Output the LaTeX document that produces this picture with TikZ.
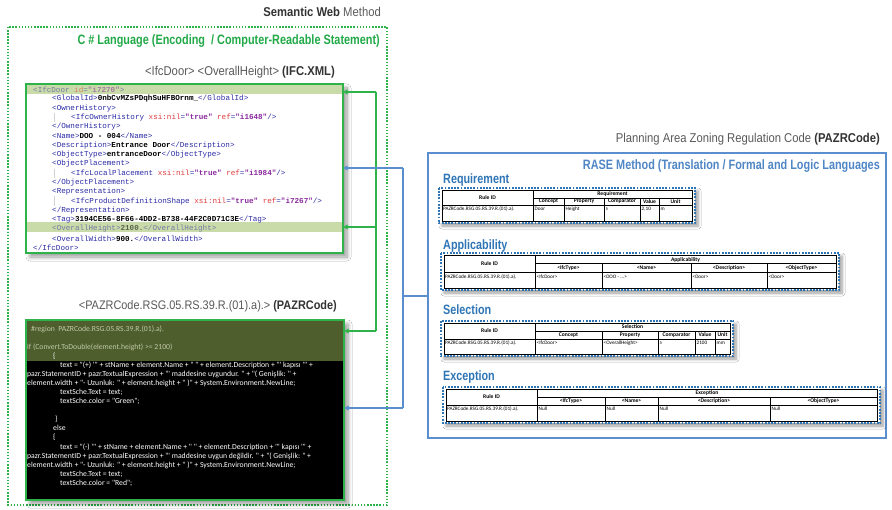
\documentclass[tikz,border=0pt]{standalone}
\usepackage{fontspec}
\setmainfont{Liberation Sans}
\newfontfamily\titlefont[FakeStretch=0.88]{Liberation Sans}
\newfontfamily\condfont[FakeStretch=0.8]{Liberation Sans}
\newfontfamily\xmlfont{Liberation Mono}
\newfontfamily\calfont{Carlito}
\usetikzlibrary{arrows.meta,shadows,shadows.blur}
\definecolor{gr}{HTML}{2DB34A}
\definecolor{gt}{HTML}{22A948}
\definecolor{pb}{HTML}{5B8ECF}
\definecolor{rt}{HTML}{4F86C6}
\definecolor{hb}{HTML}{2E75B6}
\definecolor{tb}{HTML}{2E75B6}
\definecolor{tgy}{HTML}{5A5A5A}
\definecolor{tgd}{HTML}{333333}
\definecolor{hl}{HTML}{C9DBA8}
\definecolor{olv}{HTML}{4E5E2C}
\definecolor{olt}{HTML}{C2C9AA}
\definecolor{xtag}{HTML}{2B2BA6}
\definecolor{xatt}{HTML}{E03A3A}
\definecolor{xval}{HTML}{8A2A9E}
\newcommand\tg[1]{\textcolor{xtag}{#1}}
\newcommand\atn[1]{\textcolor{xatt}{#1}}
\newcommand\av[1]{\textcolor{xval}{\bfseries #1}}
\newcommand\ct[1]{\textbf{#1}}
\tikzset{
  gline/.style={draw=gr, line width=1.4pt},
  garrow/.style={gline, -{Triangle[length=4.5pt,width=5pt]}},
  bline/.style={draw=pb, line width=1.4pt},
  barrow/.style={bline, -{Triangle[length=4.5pt,width=5pt]}},
  tblbox/.style={draw=tb, line width=2pt, dash pattern=on 1.8pt off 1.4pt},
  tshadow/.style={fill=white, inner sep=0, blur shadow={shadow xshift=3pt, shadow yshift=-3pt, shadow blur steps=6, shadow blur radius=3pt}},
  tl/.style={draw=black, line width=0.4pt},
  th/.style={font=\calfont\bfseries\fontsize{5.6}{6}\selectfont, inner sep=0},
  td/.style={font=\calfont\fontsize{5.2}{6}\selectfont, anchor=west, inner sep=0},
  head/.style={font=\condfont\bfseries\fontsize{13.5}{14}\selectfont, text=hb, anchor=base west, inner sep=0},
  gtitle/.style={font=\titlefont\fontsize{12.8}{13}\selectfont, text=tgy, anchor=east, inner sep=0},
  xl/.style={font=\xmlfont\fontsize{7.6}{8}\selectfont, anchor=west, inner sep=0, text=black},
  cl/.style={font=\calfont\fontsize{7.7}{8}\selectfont, anchor=west, inner sep=0, text=white},
}
\begin{document}
\begin{tikzpicture}[x=1pt,y=-1pt]
\useasboundingbox[fill=white] (0,0) rectangle (892,510);

% ---------- left: semantic web ----------
\node[gtitle] (semweb) at (381,12) {\textcolor{tgd}{\bfseries Semantic Web} Method};
\draw[draw=gr, line width=1.6pt, dash pattern=on 1.5pt off 1.6pt] (8,27) rectangle (387,505);
\node[font=\condfont\bfseries\fontsize{13.6}{14}\selectfont, text=gt, anchor=east, inner sep=0] (cstitle) at (380,41) {C \# Language (Encoding\ \ / Computer-Readable Statement)};
\node[gtitle] (ifct) at (335,72) {<IfcDoor> <OverallHeight> \textcolor{tgd}{\bfseries(IFC.XML)}};

% XML box
\node[fill=white, minimum width=317pt, minimum height=169pt, inner sep=0, blur shadow={shadow xshift=4pt, shadow yshift=-4pt, shadow blur steps=8, shadow blur radius=4pt}] (xml) at (184.5,168.5) {};
\fill[hl] (27,85) rectangle (342,94.5);
\fill[hl] (27,222.5) rectangle (342,232);
\foreach \yy in {117.4,173.2,201.1} \draw[black!18, line width=0.5pt] (54.5,\yy-4.6) -- (54.5,\yy+4.6);
\node[xl, text opacity=0.55] (x1) at (33,89.5) {\tg{<IfcDoor }\atn{id}\tg{=}\av{"i7270"}\tg{>}};
\node[xl] (x2) at (52,98.8) {\tg{<GlobalId>}\ct{0nbCvMZsPDqhSuHFBOrnm\_}\tg{</GlobalId>}};
\node[xl] (x3) at (52,108.1) {\tg{<OwnerHistory>}};
\node[xl] (x4) at (71,117.4) {\tg{<IfcOwnerHistory }\atn{xsi:nil}\tg{=}\av{"true"} \atn{ref}\tg{=}\av{"i1648"}\tg{/>}};
\node[xl] (x5) at (52,126.7) {\tg{</OwnerHistory>}};
\node[xl] (x6) at (52,136) {\tg{<Name>}\ct{DOO - 004}\tg{</Name>}};
\node[xl] (x7) at (52,145.3) {\tg{<Description>}\ct{Entrance Door}\tg{</Description>}};
\node[xl] (x8) at (52,154.6) {\tg{<ObjectType>}\ct{entranceDoor}\tg{</ObjectType>}};
\node[xl] (x9) at (52,163.9) {\tg{<ObjectPlacement>}};
\node[xl] (x10) at (71,173.2) {\tg{<IfcLocalPlacement }\atn{xsi:nil}\tg{=}\av{"true"} \atn{ref}\tg{=}\av{"i1984"}\tg{/>}};
\node[xl] (x11) at (52,182.5) {\tg{</ObjectPlacement>}};
\node[xl] (x12) at (52,191.8) {\tg{<Representation>}};
\node[xl] (x13) at (71,201.1) {\tg{<IfcProductDefinitionShape }\atn{xsi:nil}\tg{=}\av{"true"} \atn{ref}\tg{=}\av{"i7267"}\tg{/>}};
\node[xl] (x14) at (52,210.4) {\tg{</Representation>}};
\node[xl] (x15) at (52,219.7) {\tg{<Tag>}\ct{3194CE56-8F66-4DD2-B738-44F2C0D71C3E}\tg{</Tag>}};
\node[xl, text opacity=0.55] (x16) at (52,229) {\tg{<OverallHeight>}\ct{2100.}\tg{</OverallHeight>}};
\node[xl] (x17) at (52,238.3) {\tg{<OverallWidth>}\ct{900.}\tg{</OverallWidth>}};
\node[xl] (x18) at (33,247.6) {\tg{</IfcDoor>}};
\draw[gr, line width=2pt] (xml.north west) rectangle (xml.south east);

% code box
\node[gtitle, font=\titlefont\fontsize{12.4}{13}\selectfont] (pzt) at (337,306) {<PAZRCode.RSG.05.RS.39.R.(01).a).> \textcolor{tgd}{\bfseries(PAZRCode)}};
\node[fill=black, minimum width=318pt, minimum height=180pt, inner sep=0, blur shadow={shadow xshift=4pt, shadow yshift=-4pt, shadow blur steps=8, shadow blur radius=4pt}] (code) at (185,410) {};
\fill[olv] (27,321) rectangle (343,361);
\node[cl, text=olt] (c1) at (31,329) {\#region\ \ PAZRCode.RSG.05.RS.39.R.(01).a).};
\node[cl, text=olt] (c2) at (27,347) {if (Convert.ToDouble(element.height) >= 2100)};
\node[cl] (c3) at (53,356) {\{};
\node[cl] (c4) at (60,365) {text = "(+) '" + stName + element.Name + " " + element.Description + "' kapısı '" +};
\node[cl] (c5) at (27,374) {pazr.StatementID + pazr.TextualExpression + "' maddesine uygundur. " + "( Genişlik: " +};
\node[cl] (c6) at (27,383) {element.width + "- Uzunluk: " + element.height + " )" + System.Environment.NewLine;};
\node[cl] (c7) at (60,392) {textSche.Text = text;};
\node[cl] (c8) at (60,401) {textSche.color = "Green";};
\node[cl] (c9) at (55,419) {\}};
\node[cl] (c10) at (53,428) {else};
\node[cl] (c11) at (53,437) {\{};
\node[cl] (c12) at (60,447) {text = "(-) '" + stName + element.Name + " " + element.Description + "' kapısı '" +};
\node[cl] (c13) at (27,456) {pazr.StatementID + pazr.TextualExpression + "' maddesine uygun değildir. " + "( Genişlik: " +};
\node[cl] (c14) at (27,465) {element.width + "- Uzunluk: " + element.height + " )" + System.Environment.NewLine;};
\node[cl] (c15) at (60,474) {textSche.Text = text;};
\node[cl] (c16) at (60,483) {textSche.color = "Red";};
\draw[gr, line width=2pt] (code.north west) rectangle (code.south east);

% ---------- right: RASE ----------
\node[gtitle] (plt) at (880,139) {Planning Area Zoning Regulation Code \textcolor{tgd}{\bfseries(PAZRCode)}};
\node[draw=pb, line width=1.5pt, minimum width=458pt, minimum height=285pt, inner sep=0] (rase) at (657,295.5) {};
\node[font=\condfont\bfseries\fontsize{13.6}{14}\selectfont, text=rt, anchor=east, inner sep=0] (rasett) at (880,166) {RASE Method (Translation / Formal and Logic Languages};

% Requirement
\node[head] (hreq) at (443,183.5) {Requirement};
\node[tshadow, minimum width=256pt, minimum height=35pt] (treq) at (567,205.5) {};
\draw[tl] (442,190) rectangle (692,221);
\draw[tl] (533,190) -- (533,221) (533,198) -- (692,198);
\draw[tl, line width=0.7pt] (442,205) -- (692,205);
\foreach \xx in {564,604,640,659} \draw[tl] (\xx,198) -- (\xx,221);
\node[th] (rq1) at (487.5,197.5) {Rule ID};
\node[th] (rq2) at (612.5,194) {Requirement};
\node[th] (rq3) at (548.5,201.5) {Concept};
\node[th] (rq4) at (584,201.5) {Property};
\node[th] (rq5) at (622,201.5) {Comparator};
\node[th] (rq6) at (649.5,201.5) {Value};
\node[th] (rq7) at (675.5,201.5) {Unit};
\node[td] (rq8) at (443,209) {PAZRCode.RSG.05.RS.39.R.(01).a).};
\node[td] (rq9) at (534.5,209) {Door};
\node[td] (rq10) at (565.5,209) {Height};
\node[td] (rq11) at (605.5,209) {≥};
\node[td] (rq12) at (641.5,209) {2,10};
\node[td] (rq13) at (660.5,209) {m};
\draw[tblbox] (treq.north west) rectangle (treq.south east);

% Applicability
\node[head] (happ) at (443,250) {Applicability};
\node[tshadow, minimum width=398pt, minimum height=37pt] (tapp) at (640,271.5) {};
\draw[tl] (444,255) rectangle (836,288);
\draw[tl] (535,255) -- (535,288) (535,263.5) -- (836,263.5);
\draw[tl, line width=0.7pt] (444,272) -- (836,272);
\foreach \xx in {602,691,767} \draw[tl] (\xx,263.5) -- (\xx,288);
\node[th] (ap1) at (489.5,263.5) {Rule ID};
\node[th] (ap2) at (685.5,259.5) {Applicability};
\node[th] (ap3) at (568.5,268) {<IfcType>};
\node[th] (ap4) at (646.5,268) {<Name>};
\node[th] (ap5) at (729,268) {<Description>};
\node[th] (ap6) at (801.5,268) {<ObjectType>};
\node[td] (ap7) at (445,276.5) {PAZRCode.RSG.05.RS.39.R.(01).a).};
\node[td] (ap8) at (536.5,276.5) {<IfcDoor>};
\node[td] (ap9) at (603.5,276.5) {<DOO - ...>};
\node[td] (ap10) at (692.5,276.5) {<Door>};
\node[td] (ap11) at (768.5,276.5) {<Door>};
\draw[tblbox] (tapp.north west) rectangle (tapp.south east);

% Selection
\node[head] (hsel) at (443,315) {Selection};
\node[tshadow, minimum width=292pt, minimum height=35pt] (tsel) at (587,338.5) {};
\draw[tl] (444,323) rectangle (730,354);
\draw[tl] (535,323) -- (535,354) (535,331) -- (730,331);
\draw[tl, line width=0.7pt] (444,339) -- (730,339);
\foreach \xx in {602,658,695,715} \draw[tl] (\xx,331) -- (\xx,354);
\node[th] (se1) at (489.5,331) {Rule ID};
\node[th] (se2) at (632.5,327) {Selection};
\node[th] (se3) at (568.5,335) {Concept};
\node[th] (se4) at (630,335) {Property};
\node[th] (se5) at (676.5,335) {Comparator};
\node[th] (se6) at (705,335) {Value};
\node[th] (se7) at (722.5,335) {Unit};
\node[td] (se8) at (445,343) {PAZRCode.RSG.05.RS.39.R.(01).a).};
\node[td] (se9) at (536.5,343) {<IfcDoor>};
\node[td] (se10) at (603.5,343) {<OverallHeight>};
\node[td] (se11) at (659.5,343) {≥};
\node[td] (se12) at (696.5,343) {2100};
\node[td] (se13) at (716.5,343) {mm};
\draw[tblbox] (tsel.north west) rectangle (tsel.south east);

% Exception
\node[head] (hexc) at (443,381) {Exception};
\node[tshadow, minimum width=437pt, minimum height=36pt] (texc) at (661.5,405) {};
\draw[tl] (446,389) rectangle (877,421);
\draw[tl] (537,389) -- (537,421) (537,397) -- (877,397);
\draw[tl, line width=0.7pt] (446,405) -- (877,405);
\foreach \xx in {605,658,770} \draw[tl] (\xx,397) -- (\xx,421);
\node[th] (ex1) at (491.5,397) {Rule ID};
\node[th] (ex2) at (707,393) {Exception};
\node[th] (ex3) at (571,401) {<IfcType>};
\node[th] (ex4) at (631.5,401) {<Name>};
\node[th] (ex5) at (714,401) {<Description>};
\node[th] (ex6) at (823.5,401) {<ObjectType>};
\node[td] (ex7) at (447,409) {PAZRCode.RSG.05.RS.39.R.(01).a).};
\node[td] (ex8) at (538.5,409) {Null};
\node[td] (ex9) at (606.5,409) {Null};
\node[td] (ex10) at (659.5,409) {Null};
\node[td] (ex11) at (771.5,409) {Null};
\draw[tblbox] (texc.north west) rectangle (texc.south east);

% ---------- connectors ----------
\coordinate (g1) at (376,92);
\coordinate (g2) at (376,227);
\coordinate (g3) at (376,331);
\draw[gline] (g1) -- (g3);
\draw[garrow] (g1) -- (g1 -| xml.east);
\draw[garrow] (g2) -- (g2 -| xml.east);
\draw[garrow] (g3) -- (g3 -| code.east);

\coordinate (b0) at (403,296);
\coordinate (b1) at (403,168);
\coordinate (b2) at (403,408);
\draw[bline] (b0 -| rase.west) -- (b0);
\draw[bline] (b1) -- (b2);
\draw[barrow] (b1) -- (b1 -| xml.east);
\draw[barrow] (b2) -- (b2 -| code.east);
\end{tikzpicture}
\end{document}
